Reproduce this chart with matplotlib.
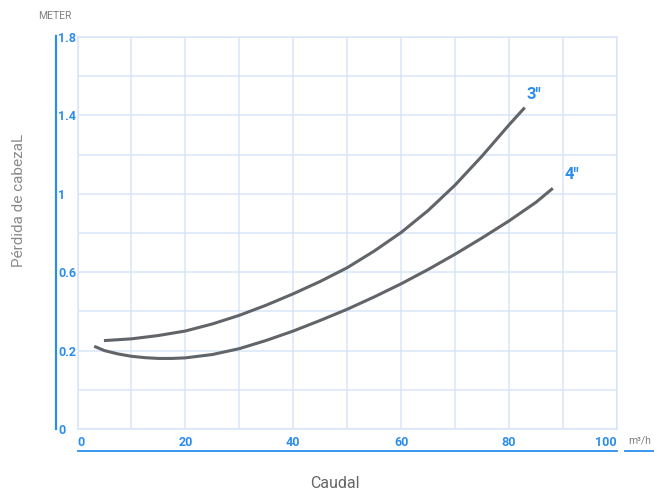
import matplotlib.pyplot as plt
from matplotlib.lines import Line2D

plt.rcParams['font.family'] = ['Roboto', 'DejaVu Sans']

# curve readings (flow m3/h, head loss m)
flow_3in = [4.9, 10, 15, 20, 25, 30, 35, 40, 45, 50, 55, 60, 65, 70, 75, 80, 82.9]
loss_3in = [0.251, 0.260, 0.277, 0.300, 0.336, 0.380, 0.432, 0.490, 0.553, 0.623,
            0.708, 0.803, 0.915, 1.045, 1.193, 1.352, 1.440]
flow_4in = [3.1, 5, 7.5, 10, 12.5, 15, 17.5, 20, 25, 30, 35, 40, 45, 50, 55, 60, 65, 70,
            75, 80, 85, 88.1]
loss_4in = [0.222, 0.200, 0.183, 0.171, 0.164, 0.160, 0.160, 0.163, 0.180, 0.210, 0.252,
            0.300, 0.354, 0.411, 0.474, 0.541, 0.614, 0.692, 0.775, 0.862, 0.957, 1.028]

x_ticks = [0, 20, 40, 60, 80, 100]
y_ticks = [-0.2, 0.2, 0.6, 1.0, 1.4, 1.8]
y_labels = ['0', '0.2', '0.6', '1', '1.4', '1.8']

blue = '#2b8def'
grid = '#d8e5f8'
line = '#616469'

fig = plt.figure(figsize=(6.54, 4.93), dpi=100)
ax = fig.add_axes([77.5 / 654, 64 / 493, 539.5 / 654, 392 / 493])

ax.plot(flow_3in, loss_3in, color=line, lw=2.2, solid_capstyle='butt')
ax.plot(flow_4in, loss_4in, color=line, lw=2.2, solid_capstyle='butt')
ax.text(83.3, 1.47, '3"', color=blue, fontsize=12, fontweight='bold', ha='left', va='bottom')
ax.text(90.3, 1.06, '4"', color=blue, fontsize=12, fontweight='bold', ha='left', va='bottom')

ax.set_xlim(0, 100)
ax.set_ylim(-0.2, 1.8)
ax.set_xticks(range(0, 101, 10), minor=True)
ax.set_yticks([v / 10 for v in range(-2, 19, 2)], minor=True)
ax.set_xticks(x_ticks)
ax.set_yticks(y_ticks)
ax.set_yticklabels(y_labels)
ax.grid(True, which='both', color=grid, lw=1.1)
ax.set_axisbelow(True)
for s in ax.spines.values():
    s.set_color(grid)
    s.set_linewidth(1.1)

ax.tick_params(which='both', length=0)
ax.tick_params(axis='y', pad=14, labelsize=9, labelcolor=blue)
ax.tick_params(axis='x', pad=5, labelsize=9, labelcolor=blue)
for lab in ax.get_yticklabels():
    lab.set_horizontalalignment('left')
    lab.set_fontweight('bold')
xl = ax.get_xticklabels()
for lab in xl:
    lab.set_fontweight('bold')
xl[0].set_horizontalalignment('left')
xl[-1].set_horizontalalignment('right')

# blue axis strokes
fig.add_artist(Line2D([56 / 654, 56 / 654], [1 - 36 / 493, 1 - 429 / 493], color=blue, lw=1.6))
fig.add_artist(Line2D([77.5 / 654, 617 / 654], [1 - 451 / 493, 1 - 451 / 493], color=blue, lw=1.3))
fig.add_artist(Line2D([625 / 654, 654 / 654], [1 - 451 / 493, 1 - 451 / 493], color=blue, lw=1.3))

fig.text(55 / 654, 1 - 16 / 493, 'METER', color='#808080', fontsize=7.5, ha='center', va='center')
fig.text(640 / 654, 1 - 440 / 493, 'm³/h', color='#808080', fontsize=7.5, ha='center', va='center')
fig.text(19 / 654, 1 - 200 / 493, 'Pérdida de cabezaL', color='#8a8a8a', fontsize=11,
         rotation=90, ha='center', va='center')
fig.text(335 / 654, 1 - 483 / 493, 'Caudal', color='#666666', fontsize=11.5, ha='center', va='center')

fig.savefig('out.png', dpi=100)
